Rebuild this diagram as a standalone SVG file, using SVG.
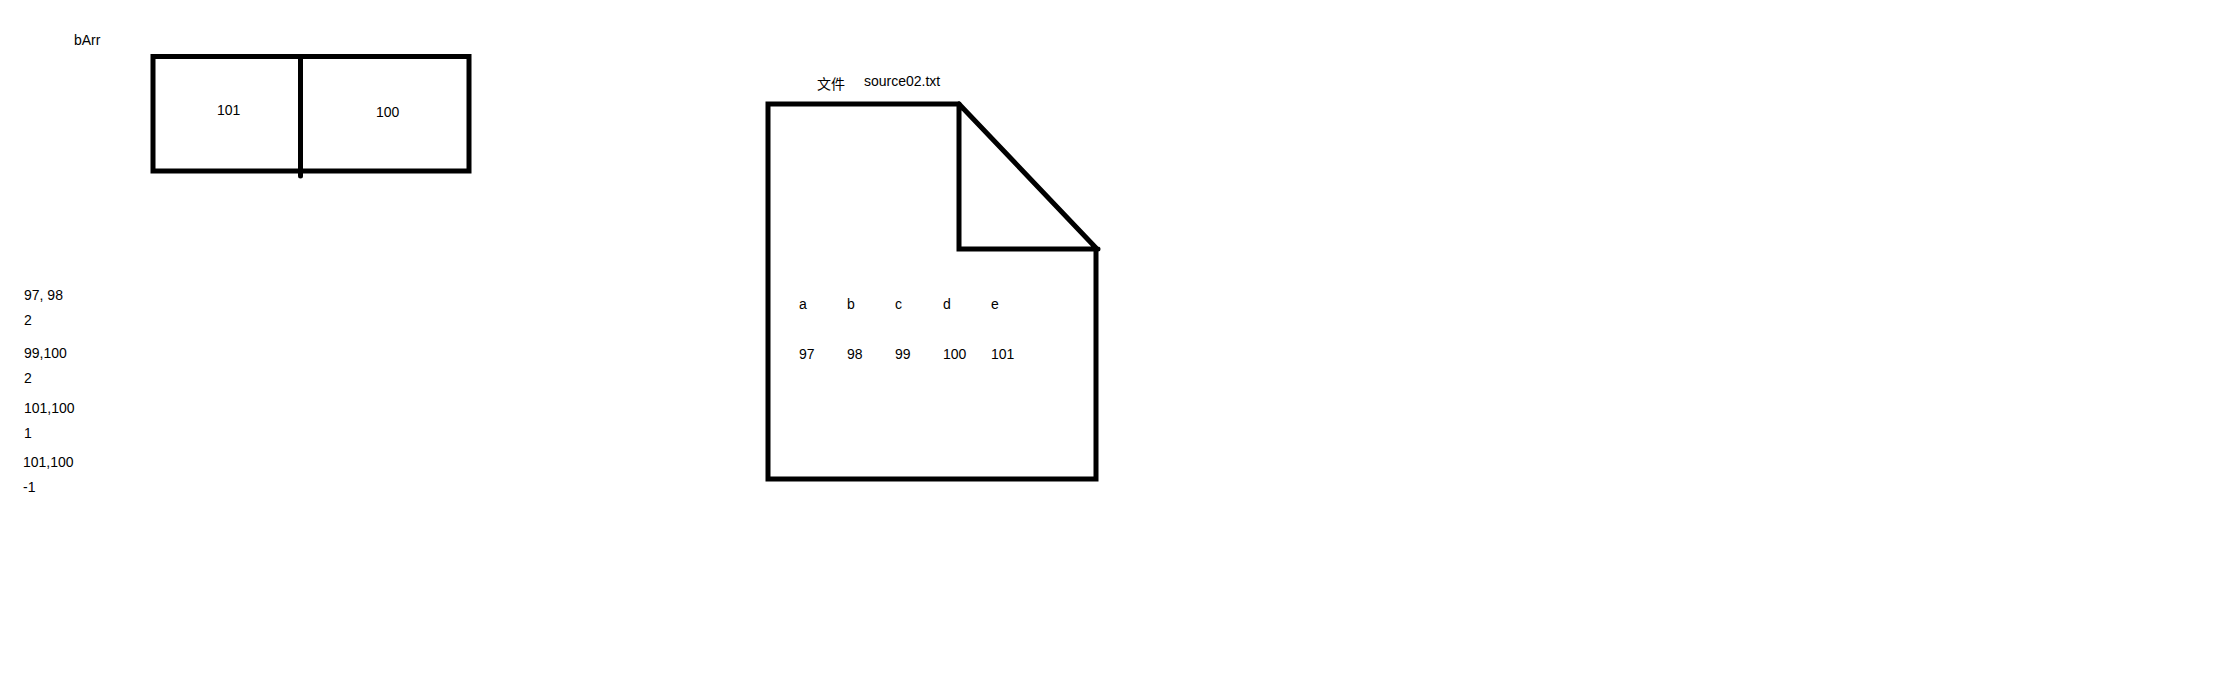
<svg xmlns="http://www.w3.org/2000/svg" width="2220" height="683" viewBox="0 0 2220 683">
<style>
.t{font-family:"Liberation Sans","Noto Sans CJK SC",sans-serif;font-size:14px;fill:#000}
.s{fill:none;stroke:#000;stroke-width:5;stroke-linecap:round;stroke-linejoin:miter}
</style>
<rect width="2220" height="683" fill="#fff"/>
<g id="barr-label"><text class="t" x="74" y="45">bArr</text></g>
<g id="barr">
<rect class="s" x="153" y="56.5" width="316" height="114.5"/>
<line class="s" x1="300.5" y1="56.5" x2="300.5" y2="176"/>
<text class="t" x="217" y="115">101</text>
<text class="t" x="376" y="117">100</text>
</g>
<g id="notes">
<text class="t" x="24" y="300">97, 98</text>
<text class="t" x="24" y="325">2</text>
<text class="t" x="24" y="358">99,100</text>
<text class="t" x="24" y="383">2</text>
<text class="t" x="24" y="413">101,100</text>
<text class="t" x="24" y="438">1</text>
<text class="t" x="23" y="467">101,100</text>
<text class="t" x="23" y="492">-1</text>
</g>
<g id="file">
<text class="t" x="817" y="89">文件</text>
<text class="t" x="864" y="86">source02.txt</text>
<path class="s" d="M959,104 L768,104 L768,479 L1096,479 L1096,249"/>
<path class="s" d="M959,104 L959,249 L1098,249 M959,104 L1097,249"/>
<text class="t" x="799" y="309">a</text>
<text class="t" x="847" y="309">b</text>
<text class="t" x="895" y="309">c</text>
<text class="t" x="943" y="309">d</text>
<text class="t" x="991" y="309">e</text>
<text class="t" x="799" y="359">97</text>
<text class="t" x="847" y="359">98</text>
<text class="t" x="895" y="359">99</text>
<text class="t" x="943" y="359">100</text>
<text class="t" x="991" y="359">101</text>
</g>
</svg>
